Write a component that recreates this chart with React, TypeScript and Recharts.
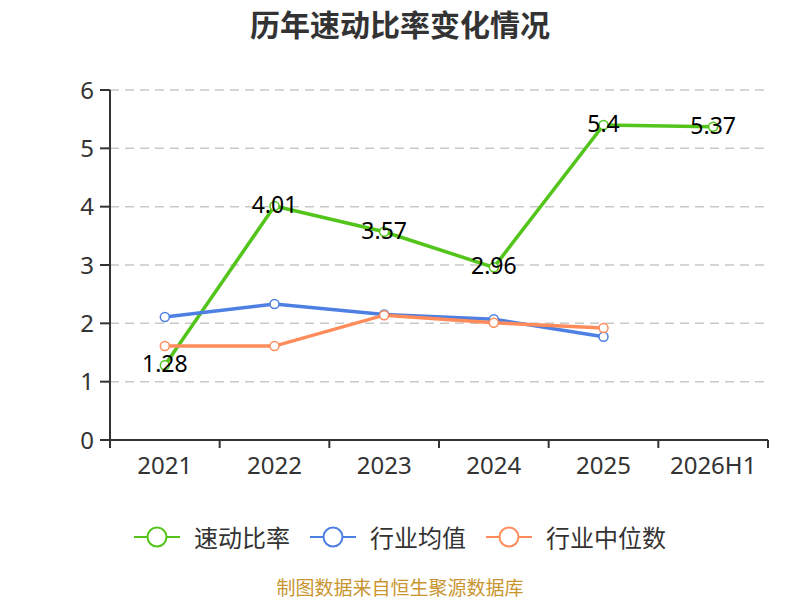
import React from 'react';
import { LineChart, Line, XAxis, YAxis, CartesianGrid, Legend, LabelList } from 'recharts';

const categories = ['2021', '2022', '2023', '2024', '2025', '2026H1'];
const quickRatio = [1.28, 4.01, 3.57, 2.96, 5.4, 5.37];
const industryAvg = [2.11, 2.33, 2.15, 2.07, 1.77, null];
const industryMedian = [1.61, 1.61, 2.14, 2.01, 1.92, null];
const yTicks = [0, 1, 2, 3, 4, 5, 6];

const seriesNames = ['速动比率', '行业均值', '行业中位数'];
const seriesColors = ['#52c41a', '#4e7fe3', '#ff8c5a'];

const data = categories.map((c, i) => ({
  name: c,
  pos: i + 0.5,
  quick: quickRatio[i],
  avg: industryAvg[i],
  median: industryMedian[i],
}));

const boundaryTicks = categories.map((_, i) => i).concat([categories.length]);

const FONT = "'Noto Sans', 'Noto Sans CJK SC', sans-serif";
const CJK = "'Noto Sans CJK SC', 'Noto Sans', sans-serif";

const renderLabel = (props: any) => {
  const { x, y, value } = props;
  if (value == null) return null;
  return (
    <text x={x} y={y - 2} textAnchor="middle" dominantBaseline="central" fontSize={23} fill="#000" fontFamily={FONT}>
      {value}
    </text>
  );
};

const CategoryTick = (props: any) => {
  const { x, y, payload, width } = props;
  const idx = Math.round(payload.value);
  if (idx >= categories.length) return null;
  const half = width / categories.length / 2;
  return (
    <text
      x={x + half}
      y={y}
      dy="0.71em"
      textAnchor="middle"
      fontSize={24}
      fill="#333"
      fontFamily={FONT}
    >
      {categories[idx]}
    </text>
  );
};

const LegendContent = () => (
  <div style={{ display: 'flex', justifyContent: 'center', alignItems: 'center', fontFamily: CJK }}>
    {seriesNames.map((n, i) => (
      <div key={n} style={{ display: 'flex', alignItems: 'center', marginLeft: i === 0 ? 0 : 20 }}>
        <svg width={46} height={24} style={{ display: 'block' }}>
          <line x1={0} y1={12} x2={46} y2={12} stroke={seriesColors[i]} strokeWidth={2} />
          <circle cx={23} cy={12} r={9.5} fill="#fff" stroke={seriesColors[i]} strokeWidth={2} />
        </svg>
        <span style={{ marginLeft: 14, fontSize: 24, color: '#333', lineHeight: '30px' }}>{n}</span>
      </div>
    ))}
  </div>
);

export default function App() {
  return (
    <div style={{ position: 'absolute', left: 0, top: 0, width: 800, height: 600, background: '#fff' }}>
      <div
        style={{
          position: 'absolute', left: 0, top: 5, width: 800, textAlign: 'center',
          fontFamily: CJK, fontSize: 30, fontWeight: 'bold', color: '#333', lineHeight: '36px',
        }}
      >
        历年速动比率变化情况
      </div>
      <LineChart width={800} height={600} data={data} margin={{ top: 90, right: 32, bottom: 120, left: 0 }}>
        <CartesianGrid xAxisId="pos" vertical={false} stroke="#c8c8c8" strokeDasharray="9 6" strokeWidth={1.5} />
        <XAxis
          xAxisId="pos"
          dataKey="pos"
          type="number"
          domain={[0, categories.length]}
          ticks={boundaryTicks}
          interval={0}
          tick={<CategoryTick />}
          tickSize={8}
          tickMargin={9}
          height={40}
          axisLine={{ stroke: '#333', strokeWidth: 2 }}
          tickLine={{ stroke: '#333', strokeWidth: 2 }}
        />
        <YAxis
          type="number"
          domain={[0, 6]}
          ticks={yTicks}
          interval={0}
          width={110}
          tickSize={10}
          tickMargin={6}
          axisLine={{ stroke: '#333', strokeWidth: 2 }}
          tickLine={{ stroke: '#333', strokeWidth: 2 }}
          tick={{ fontSize: 24, fill: '#333', fontFamily: FONT }}
        />
        <Legend
          verticalAlign="middle"
          align="center"
          layout="horizontal"
          content={<LegendContent />}
          wrapperStyle={{ top: 522, left: 0, width: 800 }}
        />
        <Line
          xAxisId="pos"
          dataKey="quick"
          name={seriesNames[0]}
          stroke={seriesColors[0]}
          strokeWidth={3.5}
          dot={{ r: 4.5, fill: '#fff', stroke: seriesColors[0], strokeWidth: 1.5 }}
          isAnimationActive={false}
        >
          <LabelList dataKey="quick" content={renderLabel} />
        </Line>
        <Line
          xAxisId="pos"
          dataKey="avg"
          name={seriesNames[1]}
          stroke={seriesColors[1]}
          strokeWidth={3.5}
          dot={{ r: 4.5, fill: '#fff', stroke: seriesColors[1], strokeWidth: 1.5 }}
          isAnimationActive={false}
        />
        <Line
          xAxisId="pos"
          dataKey="median"
          name={seriesNames[2]}
          stroke={seriesColors[2]}
          strokeWidth={3.5}
          dot={{ r: 4.5, fill: '#fff', stroke: seriesColors[2], strokeWidth: 1.5 }}
          isAnimationActive={false}
        />
      </LineChart>
      <div
        style={{
          position: 'absolute', left: 0, top: 576, width: 800, textAlign: 'center',
          fontFamily: CJK, fontSize: 19, color: '#c8952f', lineHeight: '21px',
        }}
      >
        制图数据来自恒生聚源数据库
      </div>
    </div>
  );
}
